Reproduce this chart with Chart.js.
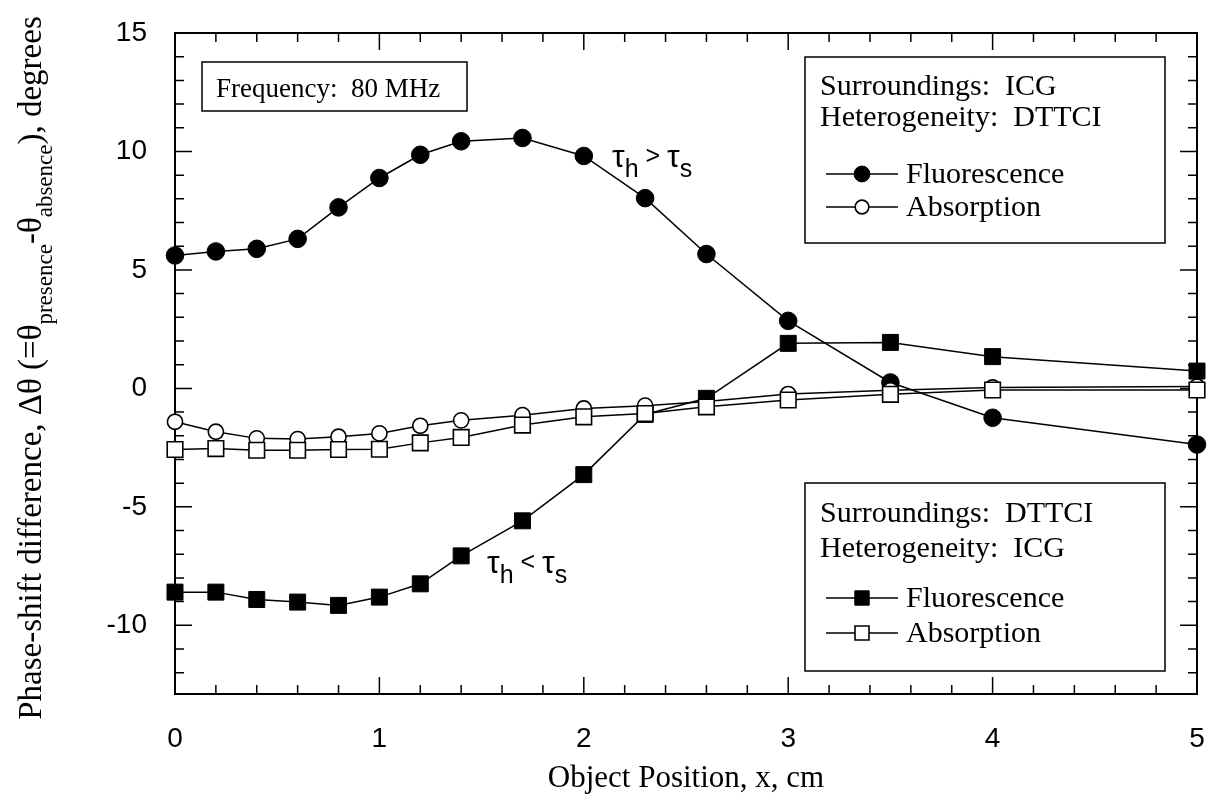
<!DOCTYPE html>
<html>
<head>
<meta charset="utf-8">
<script src="https://cdn.jsdelivr.net/npm/chart.js@4/dist/chart.umd.min.js"></script>
<style>
  html, body { margin: 0; padding: 0; background: #fff; }
</style>
</head>
<body>
<canvas id="chart" width="1212" height="800"></canvas>
<script>
// object position along x, cm
const positions = [0, 0.2, 0.4, 0.6, 0.8, 1.0, 1.2, 1.4, 1.7, 2.0, 2.3, 2.6, 3.0, 3.5, 4.0, 5.0]

// surroundings ICG, heterogeneity DTTCI
const fluorIcg = [5.61, 5.78, 5.89, 6.31, 7.64, 8.88, 9.86, 10.43, 10.57, 9.81, 8.03, 5.67, 2.85, 0.25, -1.24, -2.37]
const absorbIcg = [-1.41, -1.83, -2.11, -2.14, -2.04, -1.90, -1.58, -1.35, -1.13, -0.85, -0.73, -0.55, -0.24, -0.08, 0.04, 0.08]

// surroundings DTTCI, heterogeneity ICG
const fluorDttci = [-8.60, -8.60, -8.91, -9.02, -9.16, -8.81, -8.25, -7.07, -5.59, -3.64, -1.10, -0.42, 1.90, 1.94, 1.34, 0.73]
const absorbDttci = [-2.58, -2.54, -2.61, -2.61, -2.58, -2.57, -2.30, -2.07, -1.55, -1.20, -1.06, -0.78, -0.49, -0.25, -0.07, -0.07]

const xTickLabels = [0, 1, 2, 3, 4, 5]
const yTickLabels = [-10, -5, 0, 5, 10, 15]

const SERIF = '"Liberation Serif", "Times New Roman", serif'
const SANS = '"Liberation Sans", Arial, sans-serif'

const pts = arr => positions.map((x, i) => ({ x, y: arr[i] }))

const styles = {
  filledCircle: { pointStyle: 'circle', pointRadius: 8.8, pointBackgroundColor: '#000', pointBorderWidth: 1 },
  openCircle: { pointStyle: 'circle', pointRadius: 7.6, pointBackgroundColor: '#fff', pointBorderWidth: 1.6 },
  filledSquare: { pointStyle: 'rect', pointRadius: 11.3, pointBackgroundColor: '#000', pointBorderWidth: 1 },
  openSquare: { pointStyle: 'rect', pointRadius: 11, pointBackgroundColor: '#fff', pointBorderWidth: 1.6 }
}

function series(label, data, style, order) {
  return Object.assign({
    label, data: pts(data), order,
    showLine: true, tension: 0, clip: false,
    borderColor: '#000', borderWidth: 1.5,
    pointBorderColor: '#000', pointHoverRadius: style.pointRadius
  }, style)
}

// box outline, inward ticks on all four sides
const frame = {
  id: 'frame',
  beforeDatasetsDraw(chart) {
    const { ctx, chartArea: a, scales: { x, y } } = chart
    ctx.save()
    ctx.strokeStyle = '#000'
    ctx.lineWidth = 2
    ctx.strokeRect(a.left, a.top, a.right - a.left, a.bottom - a.top)
    ctx.lineWidth = 1.5
    ctx.beginPath()
    for (let i = 0; i <= 25; i++) {
      const px = x.getPixelForValue(i / 5)
      const len = i % 5 === 0 ? 17 : 9
      ctx.moveTo(px, a.bottom); ctx.lineTo(px, a.bottom - len)
      ctx.moveTo(px, a.top); ctx.lineTo(px, a.top + len)
    }
    for (let v = Math.ceil(y.min); v <= y.max; v++) {
      const py = y.getPixelForValue(v)
      const len = v % 5 === 0 ? 17 : 9
      ctx.moveTo(a.left, py); ctx.lineTo(a.left + len, py)
      ctx.moveTo(a.right, py); ctx.lineTo(a.right - len, py)
    }
    ctx.stroke()
    ctx.restore()
  }
}

// draws a run of [text, font, baseline shift] pieces left to right
function drawRuns(ctx, x, y, runs) {
  for (const [text, font, dy] of runs) {
    ctx.font = font
    ctx.fillText(text, x, y + dy)
    x += ctx.measureText(text).width
  }
  return x
}

function keyRow(ctx, y, style, label) {
  ctx.strokeStyle = '#000'
  ctx.lineWidth = 1.5
  ctx.beginPath(); ctx.moveTo(826, y); ctx.lineTo(898, y); ctx.stroke()
  ctx.fillStyle = style.pointBackgroundColor
  ctx.lineWidth = style.pointBorderWidth
  Chart.helpers.drawPoint(ctx, { pointStyle: style.pointStyle, radius: style.pointRadius * 0.9, borderWidth: style.pointBorderWidth, rotation: 0 }, 862, y)
  ctx.fillStyle = '#000'
  ctx.font = '30px ' + SERIF
  ctx.textBaseline = 'middle'
  ctx.fillText(label, 906, y + 1)
}

// rows: [surroundings, heterogeneity, fluorescence, absorption] offsets from top
function keyBox(ctx, top, height, rows, surround, hetero, fStyle, aStyle) {
  ctx.fillStyle = '#fff'
  ctx.fillRect(805, top, 360, height)
  ctx.strokeStyle = '#000'
  ctx.lineWidth = 1.5
  ctx.strokeRect(805, top, 360, height)
  ctx.fillStyle = '#000'
  ctx.font = '30px ' + SERIF
  ctx.textBaseline = 'middle'
  ctx.fillText('Surroundings:  ' + surround, 820, top + rows[0])
  ctx.fillText('Heterogeneity:  ' + hetero, 820, top + rows[1])
  keyRow(ctx, top + rows[2], fStyle, 'Fluorescence')
  keyRow(ctx, top + rows[3], aStyle, 'Absorption')
}

const notes = {
  id: 'notes',
  afterDatasetsDraw(chart) {
    const { ctx } = chart
    ctx.save()
    ctx.textBaseline = 'alphabetic'

    // frequency box
    ctx.fillStyle = '#fff'
    ctx.fillRect(202, 62, 265, 49)
    ctx.strokeStyle = '#000'
    ctx.lineWidth = 1.5
    ctx.strokeRect(202, 62, 265, 49)
    ctx.fillStyle = '#000'
    ctx.font = '27px ' + SERIF
    ctx.fillText('Frequency:  80 MHz', 216, 97)

    keyBox(ctx, 57, 186, [30, 61, 117, 150], 'ICG', 'DTTCI', styles.filledCircle, styles.openCircle)
    keyBox(ctx, 483, 188, [31, 66, 115, 150], 'DTTCI', 'ICG', styles.filledSquare, styles.openSquare)

    // lifetime annotations
    ctx.textBaseline = 'alphabetic'
    ctx.fillStyle = '#000'
    const big = '32px ' + SANS, small = '25px ' + SANS
    drawRuns(ctx, 612, 167, [['τ', big, 0], ['h', small, 10], [' > ', small, -3], ['τ', big, 0], ['s', small, 10]])
    drawRuns(ctx, 487, 573, [['τ', big, 0], ['h', small, 10], [' < ', small, -3], ['τ', big, 0], ['s', small, 10]])

    // y axis title with subscripts, rotated
    const main = '33px ' + SERIF, sub = '23px ' + SERIF
    const runs = [
      ['Phase-shift difference, Δθ (=θ', main, 0], ['presence', sub, 11],
      ['-θ', main, 0], ['absence', sub, 11], ['), degrees', main, 0]
    ]
    let w = 0
    for (const [t, f] of runs) { ctx.font = f; w += ctx.measureText(t).width }
    ctx.translate(41, 368)
    ctx.rotate(-Math.PI / 2)
    drawRuns(ctx, -w / 2, 0, runs)
    ctx.restore()
  }
}

new Chart(document.getElementById('chart'), {
  type: 'scatter',
  data: {
    datasets: [
      series('Fluorescence (DTTCI surroundings)', fluorDttci, styles.filledSquare, 1),
      series('Absorption (DTTCI surroundings)', absorbDttci, styles.openSquare, 0),
      series('Fluorescence (ICG surroundings)', fluorIcg, styles.filledCircle, 3),
      series('Absorption (ICG surroundings)', absorbIcg, styles.openCircle, 2)
    ]
  },
  options: {
    responsive: false,
    animation: false,
    events: [],
    layout: { autoPadding: false, padding: { top: 33, right: 15, left: 0, bottom: 0 } },
    plugins: { legend: { display: false }, tooltip: { enabled: false } },
    scales: {
      x: {
        type: 'linear', min: 0, max: 5,
        grid: { display: false, drawTicks: false },
        border: { display: false },
        afterBuildTicks: s => { s.ticks = xTickLabels.map(v => ({ value: v })) },
        // fixed axis box; label overhang is left to the outer padding
        afterFit: s => { s.height = 106; s.paddingLeft = 0; s.paddingRight = 0 },
        ticks: { color: '#000', padding: 28, maxRotation: 0, font: { family: SANS, size: 28 } },
        title: {
          display: true, text: 'Object Position, x, cm', color: '#000',
          font: { family: SERIF, size: 31 }, padding: { top: 0, bottom: 3 }
        }
      },
      y: {
        type: 'linear', min: -12.9, max: 15,
        grid: { display: false, drawTicks: false },
        border: { display: false },
        afterBuildTicks: s => { s.ticks = yTickLabels.map(v => ({ value: v })) },
        afterFit: s => { s.width = 175; s.paddingTop = 0; s.paddingBottom = 0 },
        ticks: { color: '#000', padding: 28, font: { family: SANS, size: 28 } }
      }
    }
  },
  plugins: [frame, notes]
})
</script>
</body>
</html>
